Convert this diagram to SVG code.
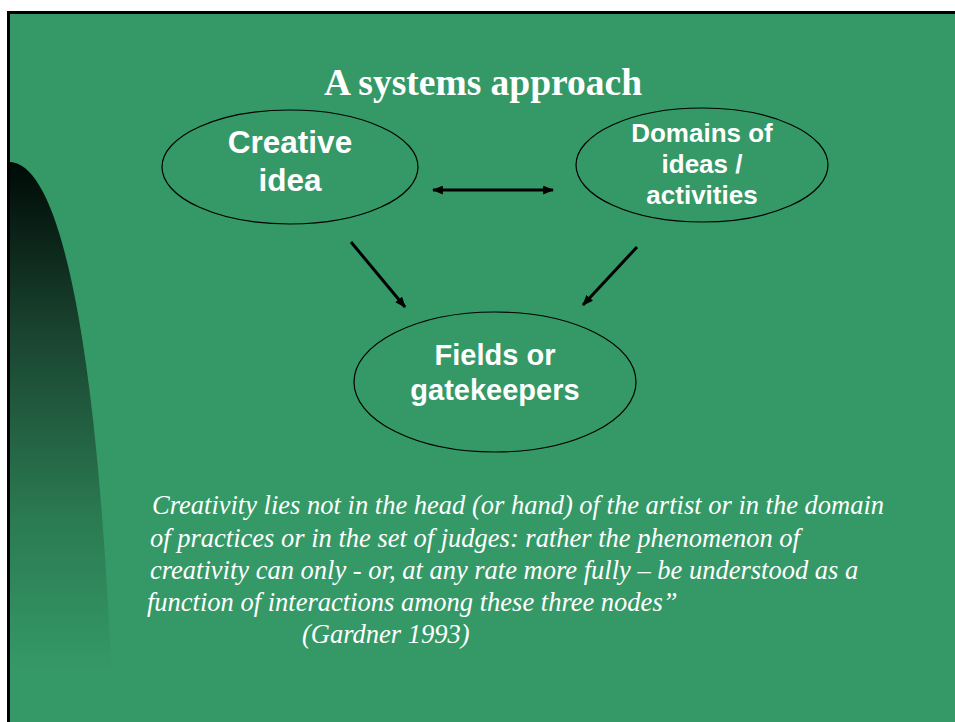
<svg xmlns="http://www.w3.org/2000/svg" width="955" height="722" viewBox="0 0 955 722">
<defs>
<linearGradient id="shade" x1="0" y1="162" x2="0" y2="670" gradientUnits="userSpaceOnUse">
<stop offset="0" stop-color="#000a06"/>
<stop offset="0.35" stop-color="#1a4631"/>
<stop offset="0.7" stop-color="#2b7a52"/>
<stop offset="1" stop-color="#349966"/>
</linearGradient>
<marker id="ah" viewBox="0 0 10 8" refX="9" refY="4" markerWidth="11" markerHeight="9" markerUnits="userSpaceOnUse" orient="auto-start-reverse">
<path d="M0,0 L10,4 L0,8 Z" fill="#000"/>
</marker>
<style>
.node{fill:none;stroke:#000;stroke-width:1.2}
.lbl{font-family:"Liberation Sans",Arial,sans-serif;font-weight:bold;fill:#fff;text-anchor:middle}
.conn{stroke:#000;stroke-width:3;fill:none}
.quote{font-family:"Liberation Serif","Times New Roman",serif;font-style:italic;font-size:26.5px;fill:#fff}
</style>
</defs>
<rect x="0" y="0" width="955" height="722" fill="#fff"/>
<rect x="8.5" y="12.5" width="960" height="720" fill="#349966" stroke="#000" stroke-width="3"/>
<path d="M10,162 C60,164 98,340 112,690 L10,690 Z" fill="url(#shade)"/>
<text x="483" y="95" font-family="Liberation Serif,'Times New Roman',serif" font-weight="bold" font-size="37.5" fill="#fff" text-anchor="middle">A systems approach</text>
<g id="creative">
<ellipse class="node" cx="290" cy="167" rx="128" ry="57"/>
<text class="lbl" font-size="31.5"><tspan x="290" y="153">Creative</tspan><tspan x="290" y="191">idea</tspan></text>
</g>
<g id="domains">
<ellipse class="node" cx="702" cy="165" rx="126" ry="57"/>
<text class="lbl" font-size="26"><tspan x="702" y="142">Domains of</tspan><tspan x="702" y="173">ideas /</tspan><tspan x="702" y="204">activities</tspan></text>
</g>
<g id="fields">
<ellipse class="node" cx="495" cy="382" rx="141" ry="70"/>
<text class="lbl" font-size="29"><tspan x="495" y="365">Fields or</tspan><tspan x="495" y="400">gatekeepers</tspan></text>
</g>
<g id="connectors">
<line class="conn" x1="433" y1="190" x2="553" y2="190" marker-start="url(#ah)" marker-end="url(#ah)"/>
<line class="conn" x1="351" y1="242" x2="405" y2="307" marker-end="url(#ah)"/>
<line class="conn" x1="637" y1="247" x2="583" y2="305" marker-end="url(#ah)"/>
</g>
<g id="quote" class="quote">
<text x="152" y="514">Creativity lies not in the head (or hand) of the artist or in the domain</text>
<text x="150" y="547">of practices or in the set of judges: rather the phenomenon of</text>
<text x="150" y="579">creativity can only - or, at any rate more fully – be understood as a</text>
<text x="147" y="611">function of interactions among these three nodes”</text>
<text x="302" y="643">(Gardner 1993)</text>
</g>
</svg>
